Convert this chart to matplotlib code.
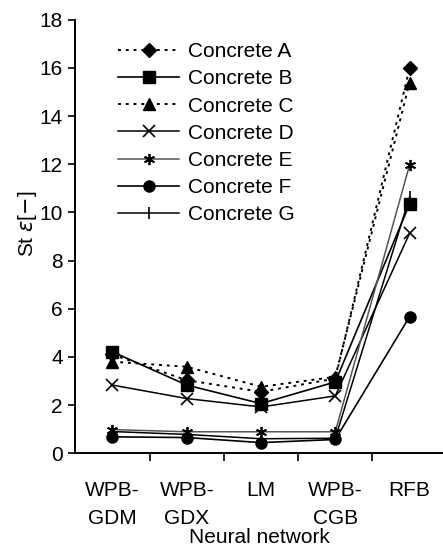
import matplotlib.pyplot as plt
from matplotlib.ticker import FixedLocator

plt.rcParams['font.family'] = ['Liberation Sans', 'DejaVu Sans']

networks = ['WPB-\nGDM', 'WPB-\nGDX', 'LM', 'WPB-\nCGB', 'RFB']
concrete_a = [4.1, 3.03, 2.55, 3.1, 15.99]
concrete_b = [4.21, 2.83, 2.06, 2.96, 10.35]
concrete_c = [3.8, 3.59, 2.76, 3.17, 15.39]
concrete_d = [2.83, 2.27, 1.92, 2.38, 9.13]
concrete_e = [0.98, 0.89, 0.89, 0.89, 11.97]
concrete_f = [0.68, 0.65, 0.44, 0.57, 5.67]
concrete_g = [0.9, 0.78, 0.6, 0.62, 10.64]

x = list(range(len(networks)))

fig = plt.figure(figsize=(4.43, 5.5), dpi=100)
ax = fig.add_axes([0.17, 0.176, 0.83, 0.788])

ax.plot(x, concrete_a, color='black', ls=(0, (1.5, 2.5)), lw=1.4, marker='D', ms=7, label='Concrete A')
ax.plot(x, concrete_b, color='black', ls='-', lw=1.2, marker='s', ms=8, label='Concrete B')
ax.plot(x, concrete_c, color='black', ls=(0, (1.5, 2.5)), lw=1.4, marker='^', ms=8, label='Concrete C')
ax.plot(x, concrete_d, color='black', ls='-', lw=1.1, marker='x', ms=8, mew=1.2, label='Concrete D')
ax.plot(x, concrete_e, color='#555555', ls='-', lw=1.1, marker=(6, 2, 0), ms=8, mew=1.3, mec='black', label='Concrete E')
ax.plot(x, concrete_f, color='black', ls='-', lw=1.2, marker='o', ms=8, label='Concrete F')
ax.plot(x, concrete_g, color='black', ls='-', lw=1.1, marker='|', ms=9, mew=1.2, label='Concrete G')

ax.set_xlim(-0.5, 4.45)
ax.set_ylim(0, 18)
ax.set_yticks(range(0, 19, 2))
ax.set_xticks(x)
ax.set_xticklabels(networks, fontsize=15, linespacing=1.6)
ax.xaxis.set_minor_locator(FixedLocator([0.5, 1.5, 2.5, 3.5]))
ax.tick_params(axis='x', which='major', length=0, pad=20)
ax.tick_params(axis='x', which='minor', length=6, width=1.2, direction='out')
ax.tick_params(axis='y', length=5, width=1.2, direction='out', labelsize=15, pad=4)

for side in ['top', 'right']:
    ax.spines[side].set_visible(False)
for side in ['left', 'bottom']:
    ax.spines[side].set_linewidth(1.4)

ax.set_xlabel('Neural network', fontsize=15, labelpad=0)
ax.set_ylabel(r'St $\epsilon$[$-$]', fontsize=15)
ax.yaxis.set_label_coords(-0.10, 0.53)

ax.legend(loc='upper left', bbox_to_anchor=(0.117, 0.948), frameon=False, fontsize=15,
          handlelength=2.9, handletextpad=0.45, labelspacing=0.39, borderaxespad=0,
          borderpad=0)

fig.savefig('out.png', dpi=100)
